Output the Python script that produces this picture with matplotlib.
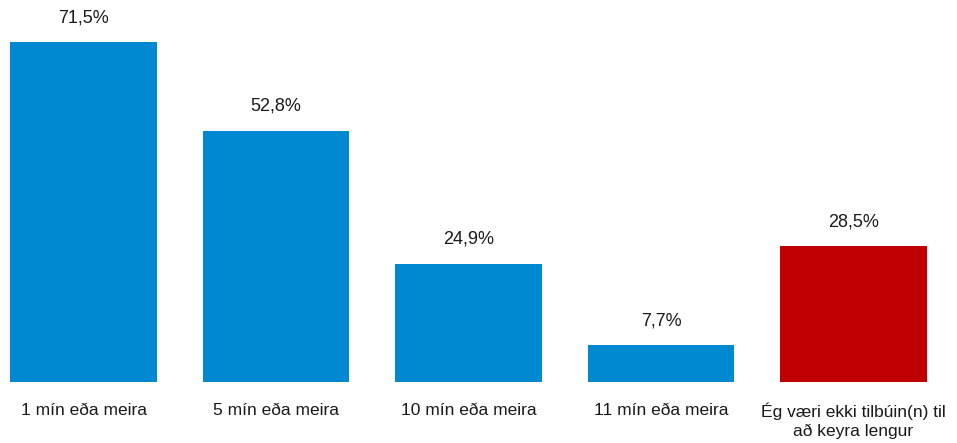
import matplotlib.pyplot as plt

categories = ["1 mín eða meira", "5 mín eða meira", "10 mín eða meira",
              "11 mín eða meira", "Ég væri ekki tilbúin(n) til\nað keyra lengur"]
values = [71.5, 52.8, 24.9, 7.7, 28.5]
labels = ["71,5%", "52,8%", "24,9%", "7,7%", "28,5%"]
colors = ["#0088D1", "#0088D1", "#0088D1", "#0088D1", "#C00000"]

plt.rcParams['font.family'] = ['Liberation Sans', 'DejaVu Sans']

fig = plt.figure(figsize=(9.57, 4.43), dpi=100)
ax = fig.add_axes([0, 61 / 443, 1, 382 / 443])
x = list(range(len(values)))
ax.bar(x, values, width=0.76, color=colors)
ax.set_xlim(-83.5 / 192.5, (957 - 83.5) / 192.5)
ax.set_ylim(0, 382 / 4.755)
for xi, v, lab in zip(x, values, labels):
    ax.annotate(lab, (xi, v), xytext=(0, 11.5), textcoords='offset points',
                ha='center', va='bottom', fontsize=13, color='#1a1a1a')
for xi, c in zip(x, categories):
    ax.annotate(c, (xi, 0), xytext=(0, -15), textcoords='offset points',
                ha='center', va='top', fontsize=12.5, color='#1a1a1a',
                linespacing=1.3)
ax.axis('off')
fig.savefig("out.png", dpi=100)
